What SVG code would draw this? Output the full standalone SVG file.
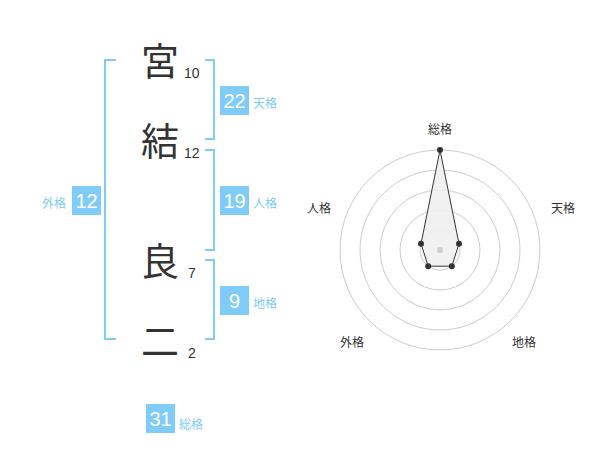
<svg xmlns="http://www.w3.org/2000/svg" width="600" height="470" viewBox="0 0 600 470">
<style>
.kanji{font-family:"Noto Sans CJK JP","Noto Sans CJK SC",sans-serif;font-size:38px;fill:#333;text-anchor:middle}
.num{font-family:"Liberation Sans",Arial,sans-serif;font-size:14px;fill:#333}
.br{fill:none;stroke:#80ccf8;stroke-width:2}
.box{fill:#80ccf8}
.bnum{font-family:"Liberation Sans",Arial,sans-serif;font-size:20px;fill:#fff;text-anchor:middle}
.lbl{font-family:"Noto Sans CJK JP","Noto Sans CJK SC",sans-serif;font-size:12px;fill:#80ccf8}
.rl{font-family:"Noto Sans CJK JP","Noto Sans CJK SC",sans-serif;font-size:12px;fill:#333;text-anchor:middle}
.ring{fill:none;stroke:#ccc;stroke-width:1}
</style>
<rect width="600" height="470" fill="#fff"/>
<g id="connectors">
<path class="br" d="M116,60 H105 V339 H116"/>
<path class="br" d="M205,60 H214 V139 H205"/>
<path class="br" d="M205,150 H214 V250 H205"/>
<path class="br" d="M205,260 H214 V339 H205"/>
</g>
<g id="char1"><text class="kanji" x="160" y="75">宮</text><text class="num" x="184" y="78">10</text></g>
<g id="char2"><text class="kanji" x="160" y="155">結</text><text class="num" x="184" y="158">12</text></g>
<g id="char3"><text class="kanji" x="160" y="275">良</text><text class="num" x="188" y="278">7</text></g>
<g id="char4"><text class="kanji" x="160" y="355">二</text><text class="num" x="188" y="358">2</text></g>
<g id="tenkaku"><rect class="box" x="220" y="86" width="29" height="29"/><text class="bnum" x="234.5" y="107.5">22</text><text class="lbl" x="253" y="108">天格</text></g>
<g id="jinkaku"><rect class="box" x="220" y="186" width="29" height="29"/><text class="bnum" x="234.5" y="207.5">19</text><text class="lbl" x="253" y="208">人格</text></g>
<g id="chikaku"><rect class="box" x="220" y="286" width="29" height="29"/><text class="bnum" x="234.5" y="307.5">9</text><text class="lbl" x="253" y="308">地格</text></g>
<g id="gaikaku"><rect class="box" x="72" y="186" width="29" height="29"/><text class="bnum" x="86.5" y="207.5">12</text><text class="lbl" x="66" y="207.5" text-anchor="end">外格</text></g>
<g id="soukaku"><rect class="box" x="146" y="404" width="29" height="29"/><text class="bnum" x="160.5" y="425.5">31</text><text class="lbl" x="179" y="429">総格</text></g>
<g id="radar">
<circle class="ring" cx="440" cy="250" r="20"/>
<circle class="ring" cx="440" cy="250" r="40"/>
<circle class="ring" cx="440" cy="250" r="60"/>
<circle class="ring" cx="440" cy="250" r="80"/>
<circle class="ring" cx="440" cy="250" r="100"/>
<polygon points="440,150 459,243.8 451.8,266.2 428.2,266.2 421,243.8" fill="#efefef" fill-opacity="0.9" stroke="#333" stroke-width="1"/>
<circle cx="440" cy="250" r="3" fill="#ccc"/>
<g fill="#333">
<circle cx="440" cy="150" r="3"/><circle cx="459" cy="243.8" r="3"/><circle cx="451.8" cy="266.2" r="3"/><circle cx="428.2" cy="266.2" r="3"/><circle cx="421" cy="243.8" r="3"/>
</g>
<text class="rl" x="440" y="134">総格</text>
<text class="rl" x="563" y="213">天格</text>
<text class="rl" x="319" y="213">人格</text>
<text class="rl" x="352" y="347">外格</text>
<text class="rl" x="524" y="347">地格</text>
</g>
</svg>
